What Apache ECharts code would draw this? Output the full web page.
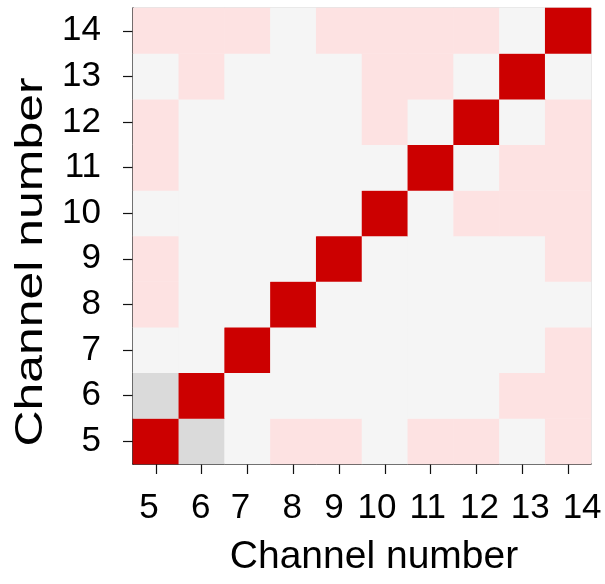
<!DOCTYPE html>
<html>
<head>
<meta charset="utf-8">
<script src="https://cdn.jsdelivr.net/npm/echarts@6/dist/echarts.min.js"></script>
<style>
  html, body { margin: 0; padding: 0; background: #ffffff; }
  #chart { width: 605px; height: 584px; }
</style>
</head>
<body>
<div id="chart"></div>
<script>
// Channel numbers used on both axes
const channels = ['5', '6', '7', '8', '9', '10', '11', '12', '13', '14'];

// Correlation between channels, one row per channel (5 at the bottom, 14 at the top),
// columns in the same channel order.
const corrRows = [
  [ 1.0, -0.2, 0.0, 0.1, 0.1, 0.0, 0.1, 0.1, 0.0, 0.1], // 5
  [-0.2,  1.0, 0.0, 0.0, 0.0, 0.0, 0.0, 0.0, 0.1, 0.1], // 6
  [ 0.0,  0.0, 1.0, 0.0, 0.0, 0.0, 0.0, 0.0, 0.0, 0.1], // 7
  [ 0.1,  0.0, 0.0, 1.0, 0.0, 0.0, 0.0, 0.0, 0.0, 0.0], // 8
  [ 0.1,  0.0, 0.0, 0.0, 1.0, 0.0, 0.0, 0.0, 0.0, 0.1], // 9
  [ 0.0,  0.0, 0.0, 0.0, 0.0, 1.0, 0.0, 0.1, 0.1, 0.1], // 10
  [ 0.1,  0.0, 0.0, 0.0, 0.0, 0.0, 1.0, 0.0, 0.1, 0.1], // 11
  [ 0.1,  0.0, 0.0, 0.0, 0.0, 0.1, 0.0, 1.0, 0.0, 0.1], // 12
  [ 0.0,  0.1, 0.0, 0.0, 0.0, 0.1, 0.1, 0.0, 1.0, 0.0], // 13
  [ 0.1,  0.1, 0.1, 0.0, 0.1, 0.1, 0.1, 0.1, 0.0, 1.0]  // 14
];

const axisTitle = 'Channel number';

// Horizontal nudge (px) of each bottom tick label relative to its tick
const xLabelNudge = [-7, -1, -7, -1, -5, -8, -3, 3, 8, 14];

// [xIndex, yIndex, value] triples for the heatmap
const cells = [];
corrRows.forEach((row, yi) => {
  row.forEach((v, xi) => cells.push([xi, yi, v]));
});

const FONT = 'Liberation Sans, Arial, sans-serif';
const LABEL_SIZE = 35;

// One rich style per bottom label so each can sit at its own offset
const xRich = {};
xLabelNudge.forEach((dx, i) => {
  xRich['c' + i] = {
    fontFamily: FONT, fontSize: LABEL_SIZE, color: '#000',
    padding: dx >= 0 ? [0, 0, 0, 2 * dx] : [0, -2 * dx, 0, 0]
  };
});

const chart = echarts.init(document.getElementById('chart'), null, { renderer: 'canvas' });

chart.setOption({
  animation: false,
  backgroundColor: '#ffffff',
  grid: {
    left: 133, right: 14, top: 8, bottom: 120,
    show: true, borderColor: '#c8c8c8', borderWidth: 1, backgroundColor: 'transparent'
  },
  xAxis: {
    type: 'category',
    data: channels,
    axisLine: { show: true, lineStyle: { color: '#111', width: 1.5 } },
    axisTick: { show: true, alignWithLabel: true, length: 10, lineStyle: { color: '#111', width: 1.2 } },
    axisLabel: {
      interval: 0, fontFamily: FONT, fontSize: LABEL_SIZE, color: '#000', margin: 27,
      formatter: (val, idx) => '{c' + idx + '|' + val + '}',
      rich: xRich
    },
    splitLine: { show: false }
  },
  yAxis: {
    type: 'category',
    data: channels,
    axisLine: { show: true, lineStyle: { color: '#111', width: 1.5 } },
    axisTick: { show: true, alignWithLabel: true, length: 10, lineStyle: { color: '#111', width: 1.2 } },
    axisLabel: {
      interval: 0, fontFamily: FONT, fontSize: LABEL_SIZE, color: '#000', margin: 32,
      padding: [5, 0, 0, 0]
    },
    splitLine: { show: false }
  },
  visualMap: {
    type: 'piecewise',
    show: false,
    dimension: 2,
    pieces: [
      { lt: -0.05, color: '#dadada' },
      { gte: -0.05, lt: 0.05, color: '#f5f5f5' },
      { gte: 0.05, lt: 0.5, color: '#fde2e2' },
      { gte: 0.5, color: '#cc0000' }
    ]
  },
  series: [{
    type: 'heatmap',
    data: cells,
    itemStyle: { borderWidth: 0 },
    emphasis: { disabled: true },
    z: 1
  }],
  graphic: [
    {
      type: 'text',
      x: 374, y: 557,
      style: {
        text: axisTitle, font: '39px ' + FONT, fill: '#000',
        textAlign: 'center', textVerticalAlign: 'middle'
      }
    },
    {
      type: 'text',
      x: 31, y: 262,
      rotation: Math.PI / 2,
      scaleX: 1.28,
      style: {
        text: axisTitle, font: '39px ' + FONT, fill: '#000',
        textAlign: 'center', textVerticalAlign: 'middle'
      }
    }
  ]
});
</script>
</body>
</html>
